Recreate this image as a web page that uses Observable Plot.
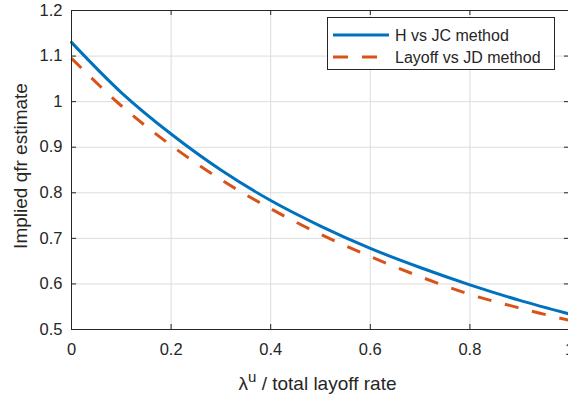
<!DOCTYPE html>
<html><head><meta charset="utf-8">
<script src="https://cdn.jsdelivr.net/npm/d3@7"></script>
<script src="https://cdn.jsdelivr.net/npm/@observablehq/plot@0.6"></script>
<style>
body{margin:0;background:#fff;overflow:hidden}
#wrap{position:relative;width:568px;height:400px;overflow:hidden;font-family:"Liberation Sans",Arial,Helvetica,sans-serif}
#legend{position:absolute;left:327px;top:17px;width:228px;height:53px;box-sizing:border-box;border:1px solid #262626;background:#fff}
#legend svg{position:absolute;left:0;top:0}
</style></head><body><div id="wrap"></div>
<script>
const xValues = [0, 0.1, 0.2, 0.3, 0.4, 0.5, 0.6, 0.7, 0.8, 0.9, 1];
const hVsJc = [1.130, 1.020, 0.929, 0.850, 0.783, 0.727, 0.678, 0.636, 0.598, 0.564, 0.534];
const layoffVsJd = [1.095, 0.991, 0.904, 0.829, 0.765, 0.709, 0.660, 0.616, 0.577, 0.547, 0.520];
const seriesNames = ["H vs JC method", "Layoff vs JD method"];
const seriesColors = ["#0072BD", "#D95319"];
const xTicks = [0, 0.2, 0.4, 0.6, 0.8, 1];
const xTickLabels = ["0", "0.2", "0.4", "0.6", "0.8", "1"];
const yTicks = [0.5, 0.6, 0.7, 0.8, 0.9, 1.0, 1.1, 1.2];
const yTickLabels = ["0.5", "0.6", "0.7", "0.8", "0.9", "1", "1.1", "1.2"];
const xLabel = "λu / total layoff rate";
const yLabel = "Implied qfr estimate";

const rows = [];
xValues.forEach((x, i) => {
  rows.push({x, y: hVsJc[i], s: seriesNames[0]});
  rows.push({x, y: layoffVsJd[i], s: seriesNames[1]});
});

const W = 568, H = 400, mL = 71, mR = -1, mT = 10, mB = 71;
const innerH = H - mT - mB, innerW = W - mL - mR;
const axisColor = "#262626";
const font = '"Liberation Sans", Arial, Helvetica, sans-serif';

const plot = Plot.plot({
  width: W, height: H,
  marginLeft: mL, marginRight: mR, marginTop: mT, marginBottom: mB,
  style: {fontFamily: font, color: axisColor, background: "#fff", overflow: "visible"},
  x: {domain: [0, 1]},
  y: {domain: [0.5, 1.2]},
  marks: [
    Plot.gridX(xTicks, {stroke: "#dcdcdc", strokeOpacity: 1, strokeWidth: 1}),
    Plot.gridY(yTicks, {stroke: "#dcdcdc", strokeOpacity: 1, strokeWidth: 1}),
    Plot.line(rows.filter(d => d.s === seriesNames[0]), {x: "x", y: "y", stroke: seriesColors[0], strokeWidth: 3, curve: "catmull-rom"}),
    Plot.line(rows.filter(d => d.s === seriesNames[1]), {x: "x", y: "y", stroke: seriesColors[1], strokeWidth: 3, curve: "catmull-rom", strokeDasharray: "14,14", strokeLinecap: "butt"}),
    Plot.frame({stroke: axisColor, strokeWidth: 1}),
    Plot.ruleX(xTicks, {stroke: axisColor, insetTop: innerH - 5}),
    Plot.ruleX(xTicks, {stroke: axisColor, insetBottom: innerH - 5}),
    Plot.ruleY(yTicks, {stroke: axisColor, insetRight: innerW - 5}),
    Plot.ruleY(yTicks, {stroke: axisColor, insetLeft: innerW - 5}),
    Plot.axisX(xTicks, {tickSize: 0, tickPadding: 14, tickFormat: (d, i) => xTickLabels[i], fontSize: 16.5, fill: axisColor, label: null}),
    Plot.axisY(yTicks, {tickSize: 0, tickPadding: 9, tickFormat: (d, i) => yTickLabels[i], fontSize: 16.5, fill: axisColor, label: null}),
    Plot.text([xLabel], {text: d => d, frameAnchor: "bottom", textAnchor: "middle", lineAnchor: "middle", dx: -3, dy: 54, fontSize: 19, fill: axisColor, className: "xlab"}),
    Plot.text([yLabel], {text: d => d, frameAnchor: "left", textAnchor: "middle", lineAnchor: "middle", dx: -51, dy: -4, rotate: -90, fontSize: 19, fill: axisColor})
  ]
});

// superscript u in the x label
const xl = d3.select(plot).select(".xlab text");
xl.text(null);
xl.append("tspan").text("λ");
xl.append("tspan").attr("dy", -8).attr("font-size", 15).text("u");
xl.append("tspan").attr("dy", 8).text(" / total layoff rate");

const wrap = document.getElementById("wrap");
wrap.appendChild(plot);

// legend
const lg = document.createElement("div");
lg.id = "legend";
wrap.appendChild(lg);
const lsvg = d3.select(lg).append("svg").attr("width", 226).attr("height", 51);
const rowY = [17, 39];
seriesNames.forEach((name, i) => {
  const l = lsvg.append("line").attr("x1", 5).attr("x2", 61).attr("y1", rowY[i]).attr("y2", rowY[i])
    .attr("stroke", seriesColors[i]).attr("stroke-width", 3);
  if (i === 1) l.attr("stroke-dasharray", "15,14");
  lsvg.append("text").attr("x", 67).attr("y", rowY[i]).attr("dy", "0.35em")
    .attr("font-size", 16).attr("fill", axisColor)
    .attr("font-family", font).text(name);
});
</script></body></html>
